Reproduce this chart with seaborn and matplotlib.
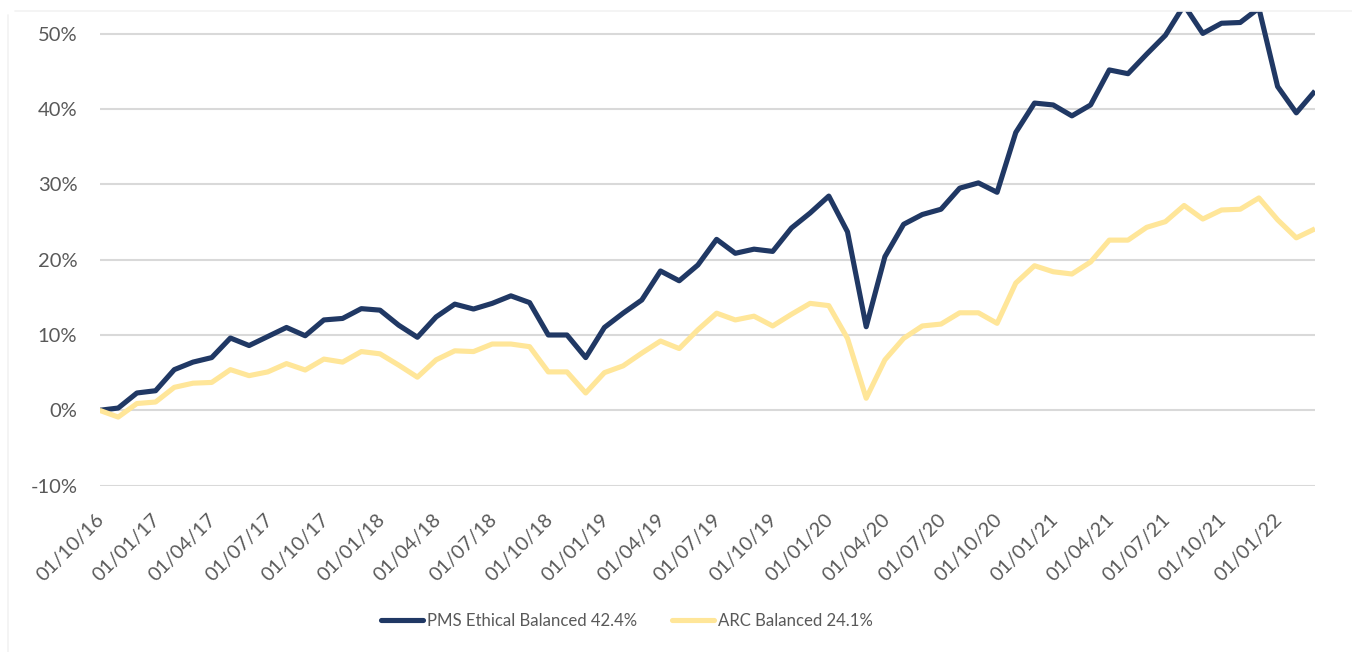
import numpy as np
import pandas as pd
import matplotlib
matplotlib.use("Agg")
import matplotlib.pyplot as plt
from matplotlib.lines import Line2D
import matplotlib.transforms as mtransforms
import seaborn as sns

# ---- data (cumulative return, %) monthly from Oct 2016 to Mar 2022 ----
pms_values = [0.0, 0.3, 2.3, 2.6, 5.4, 6.4, 7.0, 9.6, 8.6, 9.8, 11.0, 9.9,
              12.0, 12.2, 13.5, 13.3, 11.3, 9.7, 12.4, 14.1, 13.45, 14.2, 15.2, 14.3,
              10.0, 10.0, 7.0, 11.0, 12.9, 14.65, 18.5, 17.2, 19.3, 22.7, 20.85, 21.4,
              21.1, 24.2, 26.2, 28.45, 23.7, 11.1, 20.4, 24.7, 26.0, 26.7, 29.5, 30.2,
              28.95, 36.9, 40.8, 40.55, 39.1, 40.55, 45.2, 44.7, 47.3, 49.8, 53.8, 50.05,
              51.4, 51.5, 53.4, 43.0, 39.5, 42.4]
arc_values = [0.0, -0.9, 0.9, 1.1, 3.05, 3.6, 3.7, 5.4, 4.6, 5.1, 6.2, 5.35,
              6.8, 6.4, 7.8, 7.5, 6.0, 4.4, 6.7, 7.9, 7.8, 8.8, 8.8, 8.45,
              5.1, 5.1, 2.3, 5.0, 5.9, 7.6, 9.2, 8.2, 10.7, 12.9, 12.0, 12.5,
              11.2, 12.75, 14.2, 13.9, 9.55, 1.6, 6.7, 9.55, 11.2, 11.45, 12.95, 12.95,
              11.55, 16.9, 19.2, 18.4, 18.1, 19.7, 22.6, 22.6, 24.3, 25.05, 27.2, 25.4,
              26.6, 26.7, 28.2, 25.3, 22.9, 24.1]
series_names = ["PMS Ethical Balanced 42.4%", "ARC Balanced 24.1%"]
tick_labels = ["01/10/16", "01/01/17", "01/04/17", "01/07/17", "01/10/17", "01/01/18",
               "01/04/18", "01/07/18", "01/10/18", "01/01/19", "01/04/19", "01/07/19",
               "01/10/19", "01/01/20", "01/04/20", "01/07/20", "01/10/20", "01/01/21",
               "01/04/21", "01/07/21", "01/10/21", "01/01/22"]
y_ticks = [-10, 0, 10, 20, 30, 40, 50]

colors = ["#203864", "#FFE699"]
text_color = "#595959"
grid_color = "#D9D9D9"

n = len(pms_values)
df = pd.DataFrame({
    "month": list(range(n)) * 2,
    "value": pms_values + arc_values,
    "series": [series_names[0]] * n + [series_names[1]] * n,
})

sns.set_theme(style="white")
plt.rcParams["font.family"] = ["Lato", "DejaVu Sans"]

fig = plt.figure(figsize=(13.52, 6.52), dpi=100)
W, H = 1352, 652
ax = fig.add_axes([99.5 / W, 1 - 485.6 / H, (1315 - 99.5) / W, (485.6 - 11.2) / H])

sns.lineplot(data=df, x="month", y="value", hue="series", palette=colors,
             hue_order=series_names, sort=False, linewidth=3.7, ax=ax, legend=False,
             solid_joinstyle="round", solid_capstyle="butt")

ax.set_xlim(0, n - 1)
ax.set_ylim(-10, 53)
ax.set_yticks(y_ticks)
ax.set_yticklabels([f"{v}%" for v in y_ticks])
ax.set_xticks(list(range(0, 3 * len(tick_labels), 3)))
ax.set_xticklabels(tick_labels, rotation=45, ha="right", va="top", rotation_mode="anchor")
ax.set_xlabel("")
ax.set_ylabel("")
ax.grid(axis="y", color=grid_color, linewidth=1.5)
ax.set_axisbelow(True)
for s in ax.spines.values():
    s.set_visible(False)
ax.tick_params(axis="y", length=0, pad=16, labelsize=14.5, labelcolor=text_color)
ax.tick_params(axis="x", length=0, pad=18, labelsize=14.3, labelcolor=text_color)
offset = mtransforms.ScaledTranslation(-4 / 100, 0, fig.dpi_scale_trans)
for lbl in ax.get_xticklabels():
    lbl.set_transform(lbl.get_transform() + offset)

handles = [Line2D([0], [0], color=c, linewidth=3.7, solid_capstyle="round") for c in colors]
leg = fig.legend(handles, series_names, loc="center", ncol=2,
                 bbox_to_anchor=(627 / W, 1 - 620.7 / H), frameon=False,
                 fontsize=12.1, handlelength=2.5, handletextpad=0.2, columnspacing=2.1)
for t in leg.get_texts():
    t.set_color(text_color)

# faint chart frame
fig.add_artist(Line2D([8 / W, 8 / W], [0, 1 - 15 / H], color="#F2F2F2", linewidth=1.2))
fig.add_artist(Line2D([15 / W, 1], [1 - 11 / H, 1 - 11 / H], color="#F2F2F2", linewidth=1.2))

fig.savefig("out.png", dpi=100)
